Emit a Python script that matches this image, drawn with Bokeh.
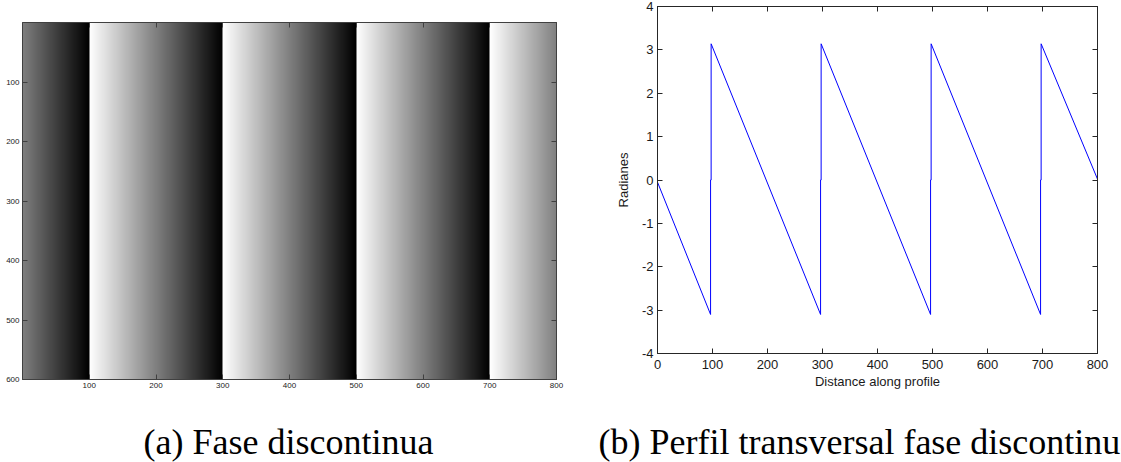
import numpy as np
from bokeh.plotting import figure
from bokeh.models import LinearColorMapper, LinearAxis, FixedTicker, Range1d
from bokeh.core.properties import value
from bokeh.embed import file_html
from bokeh.resources import INLINE

# ---------------- data ----------------
# (a) wrapped phase image: phase along columns (constant along rows)
img_x = [0, 99.99, 100, 299.99, 300, 499.99, 500, 699.99, 700, 800]
img_phase = [0.0, -3.14, 3.14, -3.14, 3.14, -3.14, 3.14, -3.14, 3.14, 0.0]
img_rows = 600
img_cols = 800
img_xticks = [100, 200, 300, 400, 500, 600, 700, 800]
img_yticks = [100, 200, 300, 400, 500, 600]

# (b) profile along a row
profile_x = [0, 96.5, 96.5, 97.5, 97.5, 296.5, 296.5, 297.5, 297.5,
             496.5, 496.5, 497.5, 497.5, 696.5, 696.5, 697.5, 697.5, 800]
profile_y = [-0.05, -3.10, 0.0, 0.0, 3.14, -3.10, 0.0, 0.0, 3.14,
             -3.10, 0.0, 0.0, 3.14, -3.10, 0.0, 0.0, 3.14, 0.02]
prof_xticks = [0, 100, 200, 300, 400, 500, 600, 700, 800]
prof_yticks = [-4, -3, -2, -1, 0, 1, 2, 3, 4]
prof_ylabels = ["-4", "-3", "-2", "-1", "0", "1", "2", "3", "4"]

caption_a = "(a) Fase discontinua"
caption_b = "(b) Perfil transversal fase discontinua"

W, H = 1121, 462

# ---------------- figure (a) ----------------
gray = ["#%02x%02x%02x" % (i, i, i) for i in range(256)]
mapper = LinearColorMapper(palette=gray, low=-np.pi, high=np.pi)

cols = np.arange(img_cols) + 0.5
row_vals = np.interp(cols, img_x, img_phase)
arr = row_vals[np.newaxis, :]

pa = figure(width=568, height=H, x_range=Range1d(0, img_cols), y_range=Range1d(img_rows, 0),
            output_backend="svg", toolbar_location=None, title=None,
            min_border_left=22, min_border_right=12, min_border_top=22,
            min_border_bottom=H - 379)
pa.styles = {"position": "absolute", "left": "0px", "top": "0px"}
pa.image(image=[arr], x=img_cols / 2, y=img_rows / 2, dw=img_cols, dh=img_rows,
         anchor="center", color_mapper=mapper)
pa.grid.visible = False
pa.outline_line_color = "#404040"

pa.add_layout(LinearAxis(), "above")
pa.add_layout(LinearAxis(), "right")
for ax in pa.axis:
    ax.major_tick_in = 5
    ax.major_tick_out = 0
    ax.minor_tick_line_color = None
    ax.axis_line_color = "#404040"
    ax.major_tick_line_color = "#404040"
    ax.major_label_text_font = "Liberation Sans"
    ax.major_label_text_font_size = "8px"
    ax.major_label_text_color = "#222222"
    ax.major_label_standoff = 3
pa.below[0].ticker = FixedTicker(ticks=img_xticks)
pa.above[0].ticker = FixedTicker(ticks=img_xticks)
pa.left[0].ticker = FixedTicker(ticks=img_yticks)
pa.right[0].ticker = FixedTicker(ticks=img_yticks)
pa.above[0].major_label_overrides = {t: "" for t in img_xticks}
pa.right[0].major_label_overrides = {t: "" for t in img_yticks}
pa.above[0].major_label_standoff = 0
pa.right[0].major_label_standoff = 0

# ---------------- figure (b) ----------------
pb = figure(width=553, height=H, x_range=Range1d(0, 800), y_range=Range1d(-4, 4),
            output_backend="svg", toolbar_location=None, title=None,
            min_border_left=89, min_border_right=24, min_border_top=6,
            min_border_bottom=H - 353)
pb.styles = {"position": "absolute", "left": "568px", "top": "0px"}
pb.line(profile_x, profile_y, line_color="#0000ff", line_width=1)
pb.grid.visible = False
pb.outline_line_color = "#262626"

pb.add_layout(LinearAxis(), "above")
pb.add_layout(LinearAxis(), "right")
for ax in pb.axis:
    ax.major_tick_in = 5
    ax.major_tick_out = 0
    ax.minor_tick_line_color = None
    ax.axis_line_color = "#262626"
    ax.major_tick_line_color = "#262626"
    ax.major_label_text_font = "Liberation Sans"
    ax.major_label_text_font_size = "13px"
    ax.major_label_text_color = "#1a1a1a"
    ax.axis_label_text_font = "Liberation Sans"
    ax.axis_label_text_font_size = "13px"
    ax.axis_label_text_font_style = "normal"
    ax.axis_label_text_color = "#1a1a1a"
pb.below[0].ticker = FixedTicker(ticks=prof_xticks)
pb.above[0].ticker = FixedTicker(ticks=prof_xticks)
pb.left[0].ticker = FixedTicker(ticks=prof_yticks)
pb.right[0].ticker = FixedTicker(ticks=prof_yticks)
pb.left[0].major_label_overrides = {t: s for t, s in zip(prof_yticks, prof_ylabels)}
pb.above[0].major_label_overrides = {t: "" for t in prof_xticks}
pb.right[0].major_label_overrides = {t: "" for t in prof_yticks}
pb.above[0].major_label_standoff = 0
pb.right[0].major_label_standoff = 0
pb.below[0].major_label_standoff = 6
pb.left[0].major_label_standoff = 4
pb.below[0].axis_label = "Distance along profile"
pb.below[0].axis_label_standoff = 2
pb.left[0].axis_label = "Radianes"
pb.left[0].axis_label_standoff = 8

# ---------------- captions (transparent overlay, pixel coordinates) ----------------
pc = figure(width=W, height=H, x_range=Range1d(0, W), y_range=Range1d(H, 0),
            output_backend="svg", toolbar_location=None, title=None,
            x_axis_type=None, y_axis_type=None, min_border=0)
pc.styles = {"position": "absolute", "left": "0px", "top": "0px"}
pc.outline_line_color = None
pc.grid.visible = False
pc.background_fill_alpha = 0
pc.border_fill_alpha = 0
pc.text(x=[288], y=[441], text=[caption_a], text_font=value("Liberation Serif"),
        text_font_size="36px", text_align="center", text_baseline="middle",
        text_color="#000000")
pc.text(x=[598], y=[441], text=[caption_b], text_font=value("Liberation Serif"),
        text_font_size="36px", text_align="left", text_baseline="middle",
        text_color="#000000")

open("out.html", "w").write(file_html([pa, pb, pc], INLINE))
